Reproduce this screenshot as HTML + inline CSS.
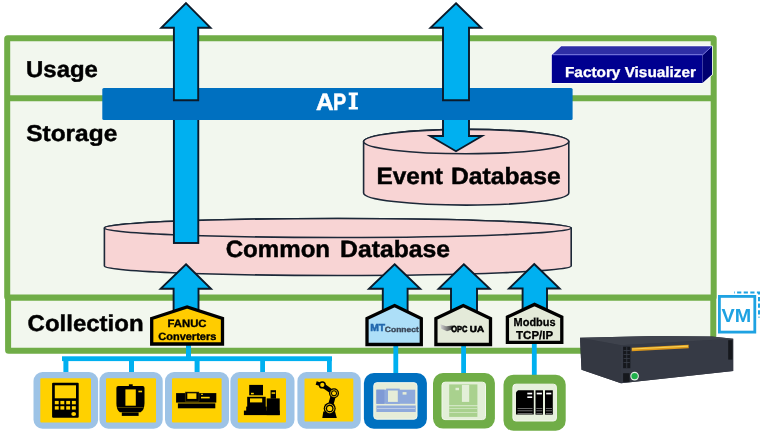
<!DOCTYPE html>
<html><head><meta charset="utf-8"><style>
html,body{margin:0;padding:0;background:#fff;width:763px;height:432px;overflow:hidden}
svg{display:block;font-family:"Liberation Sans",sans-serif;will-change:transform;text-rendering:geometricPrecision}
</style></head><body>
<svg width="763" height="432" viewBox="0 0 763 432">
<!-- main green frame -->
<rect x="8.1" y="297.4" width="705.2" height="53.4" rx="0.6" fill="#F2F7EE" stroke="#70AD47" stroke-width="6"/>
<rect x="7.2" y="38.2" width="706.5" height="259.2" rx="0.6" fill="#F2F7EE" stroke="#70AD47" stroke-width="6"/>
<line x1="7.2" y1="98.3" x2="713.7" y2="98.3" stroke="#70AD47" stroke-width="6"/>

<!-- Common DB -->
<g stroke="#1C2838" stroke-width="1.6" fill="#F8D4D4">
<path d="M104.4 228 L104.4 266 A233.4 9.5 0 0 0 571.2 266 L571.2 228 A233.4 9.5 0 0 0 104.4 228 Z"/>
<ellipse cx="337.8" cy="228" rx="233.4" ry="9.5"/>
</g>
<!-- Event DB -->
<g stroke="#1C2838" stroke-width="1.6" fill="#F8D4D4">
<path d="M363.6 141.6 L363.6 192.9 A102.6 12.2 0 0 0 568.8 192.9 L568.8 141.6 A102.6 12.2 0 0 0 363.6 141.6 Z"/>
<ellipse cx="466.2" cy="141.6" rx="102.6" ry="12.2"/>
</g>

<!-- lower shaft of arrow 1 -->
<rect x="173.9" y="112" width="24.4" height="131" fill="#00B0F0" stroke="#0B1A2A" stroke-width="1.9"/>

<!-- down arrow into event db -->
<polygon points="443,114 469,114 469,136 482,136 456,151.2 430,136 443,136" fill="#00B0F0" stroke="#0B1A2A" stroke-width="1.9"/>
<!-- API bar -->
<rect x="102.3" y="88" width="470.3" height="32" rx="1.5" fill="#0070C0"/>

<!-- top arrows -->
<g fill="#00B0F0" stroke="#0B1A2A" stroke-width="1.9" stroke-linejoin="miter">
<polygon points="186,3.2 210.5,27.8 198.2,27.8 198.2,100.3 173.9,100.3 173.9,27.8 161.3,27.8"/>
<polygon points="456,3.2 481.2,27.8 469,27.8 469,100.3 443,100.3 443,27.8 430.5,27.8"/>
</g>

<!-- bottom up arrows -->
<g fill="#00B0F0" stroke="#0B1A2A" stroke-width="1.9">
<polygon points="186,264.2 211,288.7 198.5,288.7 198.5,312 173.6,312 173.6,288.7 160.6,288.7"/>
<polygon points="394.6,264.2 420.2,288.7 407.6,288.7 407.6,312 382.8,312 382.8,288.7 369,288.7"/>
<polygon points="463.8,264.2 489.8,288.7 477,288.7 477,312 451,312 451,288.7 438.6,288.7"/>
<polygon points="534.2,264 559.6,288.5 547,288.5 547,312 522.6,312 522.6,288.5 509,288.5"/>
</g>

<!-- connectors -->
<g fill="#00B0F0">
<rect x="62" y="356.3" width="270" height="4.8"/>
<rect x="186" y="344" width="5" height="14"/>
<rect x="63.4" y="358" width="5" height="16"/>
<rect x="129" y="358" width="5" height="16"/>
<rect x="194.6" y="358" width="5" height="16"/>
<rect x="260.2" y="358" width="4.8" height="16"/>
<rect x="327" y="358" width="4.8" height="16"/>
<rect x="393.4" y="344" width="4.8" height="31"/>
<rect x="461.2" y="344" width="4.8" height="31"/>
<rect x="531.9" y="342" width="4.8" height="34"/>
</g>


<!-- device boxes -->
<g>
<rect x="33.5" y="372.1" width="64.6" height="56.6" rx="9" fill="#9DC3E6"/>
<rect x="40.3" y="378.3" width="50.7" height="44.2" rx="1" fill="#FFD100"/>
<rect x="99.4" y="372.1" width="63.3" height="56.6" rx="9" fill="#9DC3E6"/>
<rect x="106" y="378.3" width="50" height="44.2" rx="1" fill="#FFD100"/>
<rect x="165" y="372.1" width="64" height="56.6" rx="9" fill="#9DC3E6"/>
<rect x="172" y="378.3" width="49.6" height="44.2" rx="1" fill="#FFD100"/>
<rect x="230.4" y="372.1" width="64.1" height="56.6" rx="9" fill="#9DC3E6"/>
<rect x="237.8" y="378.3" width="48.2" height="44.2" rx="1" fill="#FFD100"/>
<rect x="297.4" y="372.1" width="63.4" height="56.6" rx="9" fill="#9DC3E6"/>
<rect x="304.5" y="378.6" width="48.8" height="43" rx="1" fill="#FFD100"/>
<rect x="363.9" y="373" width="63" height="55.7" rx="10" fill="#0070C0"/>
<rect x="373.8" y="382.7" width="43.2" height="36.5" rx="3" fill="#E6EDD8" stroke="#F4F8EE" stroke-width="1"/>
<rect x="433" y="373" width="61.9" height="55.6" rx="10" fill="#70AD47"/>
<rect x="442" y="382.2" width="43.5" height="37.4" rx="3" fill="#E3EFD8" stroke="#F2F8EC" stroke-width="1"/>
<rect x="503.5" y="374.7" width="62.2" height="56" rx="10" fill="#70AD47"/>
<rect x="512.9" y="384.2" width="43.5" height="36.8" rx="3" fill="#E6F0DC" stroke="#F4F8EE" stroke-width="1"/>
</g>
<!-- icon 1 pendant -->
<g>
<rect x="52.1" y="382.7" width="26.6" height="35" rx="1" fill="#000"/>
<rect x="54.8" y="385.3" width="21.2" height="13" fill="#FFD100"/>
<g fill="#FFD100">
<rect x="54.8" y="400.9" width="3.9" height="3.4"/><rect x="60.4" y="400.9" width="3.9" height="3.4"/><rect x="66.2" y="400.9" width="3.9" height="3.4"/><rect x="71.9" y="400.9" width="3.9" height="3.4"/>
<rect x="54.8" y="406.2" width="3.9" height="3.4"/><rect x="60.4" y="406.2" width="3.9" height="3.4"/><rect x="66.2" y="406.2" width="3.9" height="3.4"/><rect x="71.9" y="406.2" width="3.9" height="3.4"/>
<ellipse cx="73.7" cy="414" rx="2.4" ry="1.9"/>
</g>
</g>
<!-- icon 2 machining center -->
<g>
<rect x="128.9" y="384.3" width="3.8" height="2.4" fill="#000"/>
<path d="M116.4 388 Q116.4 386.1 118.3 386.1 L142.6 386.1 Q144.5 386.1 144.5 388 L144.5 403 Q144.5 410 140.6 412.2 L119.8 412.2 Q116.4 410 116.4 403 Z" fill="#000"/>
<rect x="121.8" y="412.4" width="16.8" height="3.5" fill="#000"/>
<rect x="125.4" y="389.4" width="10.4" height="16.3" fill="#FFD100"/>
<rect x="138.4" y="390.7" width="3.7" height="1.6" fill="#FFD100"/>
<rect x="117.5" y="407.2" width="26" height="0.7" fill="#6b5a00"/>
</g>
<!-- icon 3 lathe -->
<g>
<rect x="176.1" y="393.1" width="40.2" height="9.5" fill="#000"/>
<rect x="177.9" y="403.4" width="37.4" height="4.9" fill="#000"/>
<rect x="185.2" y="392" width="13.8" height="9.2" fill="#000" stroke="#6b5a00" stroke-width="0.5"/>
<rect x="187.3" y="393.3" width="9.1" height="5.6" fill="#FFD100"/>
<rect x="201" y="393.8" width="2" height="1" fill="#FFD100"/>
<rect x="201" y="396.8" width="8.7" height="1.6" fill="#FFD100"/>
</g>
<!-- icon 4 -->
<g fill="#000">
<rect x="249.2" y="384.9" width="13.8" height="10.4"/>
<rect x="247.2" y="396.8" width="18.5" height="10.7"/>
<rect x="246.2" y="406.6" width="20.5" height="4.5"/>
<rect x="243.9" y="410.6" width="35.8" height="4.5"/>
<rect x="266.7" y="398.4" width="13" height="16.7"/>
<rect x="270.6" y="390.2" width="5.4" height="8.5"/>
<g fill="#FFD100">
<rect x="251" y="392.8" width="2.8" height="1.5"/>
<rect x="250" y="398.4" width="12.2" height="4"/>
<rect x="271.6" y="392.3" width="3.6" height="1.5"/>
</g>
</g>
<!-- icon 5 robot -->
<g>
<polygon points="323.3,411.6 335,411.6 336.8,417.9 322.3,417.9" fill="#000"/>
<line x1="329.7" y1="408.5" x2="334" y2="393.3" stroke="#000" stroke-width="5.2"/>
<line x1="334" y1="393.3" x2="322.3" y2="384.9" stroke="#000" stroke-width="4.4"/>
<line x1="322.3" y1="384.9" x2="316.2" y2="383" stroke="#000" stroke-width="3.6"/>
<circle cx="329.7" cy="408.5" r="6" fill="#000"/>
<circle cx="329.7" cy="408.5" r="4.3" fill="none" stroke="#FFD100" stroke-width="0.9"/>
<circle cx="329.7" cy="408.5" r="2.6" fill="#FFD100"/>
<circle cx="334" cy="393.3" r="5" fill="#000"/>
<circle cx="334" cy="393.3" r="3.5" fill="none" stroke="#FFD100" stroke-width="0.8"/>
<circle cx="334" cy="393.3" r="2" fill="#FFD100"/>
<circle cx="322.3" cy="384.9" r="3.6" fill="#000"/>
<circle cx="322.3" cy="384.9" r="2.1" fill="#FFD100"/>
</g>
<!-- icon 6 MT machine -->
<g fill="#8FAADC">
<rect x="376.4" y="389.7" width="38.8" height="14.1"/>
<rect x="376.4" y="389.7" width="8" height="14.1" fill="#7F9AD5"/>
<rect x="386.1" y="388.6" width="13.6" height="15.2"/>
<rect x="388" y="390.5" width="9.8" height="11.4" fill="#E6EDD8"/>
<rect x="402.6" y="392.1" width="3.9" height="2.5" fill="#E6EDD8"/>
<rect x="376.4" y="405.5" width="39.3" height="6.5"/>
<rect x="377" y="408" width="38" height="0.8" fill="#C9D5EC"/>
</g>
<!-- icon 7 OPC machine -->
<g fill="#A9D18E">
<rect x="449.2" y="384.4" width="28.2" height="20.9"/>
<rect x="461.9" y="384.9" width="7.3" height="17" fill="#E3EFD8"/>
<rect x="455.5" y="387.8" width="3.5" height="2.4" fill="#E3EFD8"/>
<rect x="449.2" y="406.2" width="28.2" height="10.7"/>
<rect x="449.2" y="408.2" width="28.2" height="0.8" fill="#D3E8C5"/>
<rect x="449.2" y="412.1" width="28.2" height="0.8" fill="#D3E8C5"/>
</g>
<!-- icon 8 servers -->
<g>
<path d="M518 390.3 L533.8 390.3 L533.8 414.6 L516 414.6 L516 392.3 Z" fill="#000"/>
<rect x="535.5" y="390.3" width="7.5" height="24.3" fill="#000"/>
<rect x="545" y="390.3" width="7.8" height="24.3" fill="#000"/>
<g fill="#fff">
<rect x="527.3" y="392.7" width="4.9" height="1.7"/>
<rect x="527.3" y="396.4" width="4.9" height="1.6"/>
<rect x="536.7" y="392.7" width="5.2" height="1.7"/>
<rect x="546.2" y="392.7" width="5.1" height="1.7"/>
</g>
<g fill="#999">
<rect x="517.5" y="408" width="15" height="0.7"/><rect x="517.5" y="410.5" width="15" height="0.7"/><rect x="517.5" y="413" width="15" height="0.7"/>
<rect x="536.3" y="408" width="6" height="0.7"/><rect x="536.3" y="410.5" width="6" height="0.7"/><rect x="536.3" y="413" width="6" height="0.7"/>
<rect x="545.8" y="408" width="6.2" height="0.7"/><rect x="545.8" y="410.5" width="6.2" height="0.7"/><rect x="545.8" y="413" width="6.2" height="0.7"/>
</g>
</g>

<!-- pentagons -->
<g stroke="#000" stroke-width="3.3" stroke-linejoin="miter">
<polygon points="151.7,318.5 187.1,307 222.5,318.5 222.5,344 151.7,344" fill="#FFCC00"/>
<polygon points="367,318.5 394.6,305.6 421.3,318.5 421.3,344.5 367,344.5" fill="#ADDFF8"/>
<polygon points="435.9,318.5 463.3,305.6 490.5,318.5 490.5,344.5 435.9,344.5" fill="#E4EAD9"/>
<polygon points="507.4,317 534.5,304.4 561.8,317 561.8,342.3 507.4,342.3" fill="#E4EAD9"/>
</g>

<!-- labels -->
<g font-weight="bold" fill="#000" font-size="22.8" stroke="#000" stroke-width="0.45" transform="matrix(1 0 0 1.0001 0 0.45)">
<text x="26.1" y="76.4" textLength="71.8" lengthAdjust="spacingAndGlyphs">Usage</text>
<text x="26.2" y="140.25" textLength="91.1" lengthAdjust="spacingAndGlyphs">Storage</text>
<text x="27.6" y="330.3" textLength="116" lengthAdjust="spacingAndGlyphs">Collection</text>
</g>
<g font-size="23.5" font-weight="bold" fill="#fff" stroke="#fff" stroke-width="0.5"><text x="315.9" y="109.6" textLength="17.7" lengthAdjust="spacingAndGlyphs">A</text><text x="333.1" y="109.6" textLength="13.2" lengthAdjust="spacingAndGlyphs">P</text></g>
<path d="M348.7 92.6 H357.9 V95.3 H355.3 V106.9 H357.9 V109.6 H348.7 V106.9 H351.3 V95.3 H348.7 Z" fill="#fff"/>
<g font-size="23.5" font-weight="bold" fill="#000" stroke="#000" stroke-width="0.45"><text x="376.5" y="184" textLength="66.5" lengthAdjust="spacingAndGlyphs">Event</text><text x="450.9" y="184" textLength="109.8" lengthAdjust="spacingAndGlyphs">Database</text>
<text x="225.7" y="256.6" textLength="104.4" lengthAdjust="spacingAndGlyphs">Common</text><text x="340.1" y="256.6" textLength="109.9" lengthAdjust="spacingAndGlyphs">Database</text></g>

<!-- Factory Visualizer -->
<polygon points="551.8,55 561.2,46.3 712,46.3 712,74.5 702.5,83 551.8,83" fill="#fff" stroke="#fff" stroke-width="1.6" stroke-linejoin="round"/>
<polygon points="551.8,55 561.2,46.3 712,46.3 702.5,55" fill="#2E2EA6"/>
<polygon points="702.5,55 712,46.3 712,74.5 702.5,83" fill="#000070"/>
<rect x="551.8" y="55" width="150.7" height="28" fill="#00008F"/>
<line x1="552.6" y1="54.7" x2="702.5" y2="54.7" stroke="#6E6ED8" stroke-width="1.3"/>
<line x1="702.5" y1="55" x2="711.6" y2="46.6" stroke="#6E6ED8" stroke-width="1"/>
<text x="565" y="77" font-size="14.5" font-weight="bold" fill="#fff" stroke="#fff" stroke-width="0.3" textLength="131" lengthAdjust="spacingAndGlyphs">Factory Visualizer</text>


<!-- MTConnect logo -->
<text x="370.2" y="330.8" font-size="10.2" font-weight="bold" fill="#2268AE" stroke="#2268AE" stroke-width="0.5" textLength="15" lengthAdjust="spacingAndGlyphs">MT</text>
<text x="384.8" y="331.8" font-size="7.6" font-weight="bold" fill="#3B4859" stroke="#3B4859" stroke-width="0.35" textLength="34" lengthAdjust="spacingAndGlyphs">Connect</text>
<!-- OPC UA logo -->
<defs><linearGradient id="og" x1="0" x2="1" y1="0" y2="0"><stop offset="0" stop-color="#d8d8d8"/><stop offset="1" stop-color="#303030"/></linearGradient></defs>
<path d="M440.3 324.3 L446 326.2 L452.8 325.6 L452 329.5 L447 331.3 L441.2 328.8 Z" fill="url(#og)"/>
<text x="451.3" y="332" font-size="8.8" font-weight="bold" fill="#000" stroke="#000" stroke-width="0.6" textLength="16.2" lengthAdjust="spacingAndGlyphs">OPC</text>
<text x="469.8" y="332" font-size="8.8" font-weight="bold" fill="#000" stroke="#000" stroke-width="0.6" textLength="14.2" lengthAdjust="spacingAndGlyphs">UA</text>

<!-- VM icon -->
<g fill="none" stroke="#1EA2E2">
<path d="M734 292.5 L759 292.5 L759 317.5" stroke-width="2" stroke-dasharray="4.2 2.4" stroke-dashoffset="3.5"/>
<rect x="719.4" y="296.4" width="35.4" height="35.7" stroke-width="2.8" fill="#fff"/>
</g>
<text x="721.6" y="321.7" font-size="19" font-weight="bold" fill="#1EA2E2" textLength="29.6" lengthAdjust="spacingAndGlyphs">VM</text>

<!-- hardware box -->
<g>
<polygon points="580,337.8 655,335.9 712,336.6 733.2,338.8 733.2,371 621,383.3 581.5,369.7" fill="#363A45"/>
<polygon points="580,337.8 655,335.9 712,336.6 733.2,338.8 621,345.2" fill="#3F434D"/>
<polygon points="580,337.8 621,345.2 621,383.3 581.5,369.7" fill="#343842"/>
<polygon points="621,345.2 733.2,338.8 733.2,371 621,383.3" fill="#363A45"/>
<polygon points="631.7,347.8 688.7,344.8 688.7,348.3 631.7,351.3" fill="#E09A1A"/>
<polygon points="632,348.6 688,345.6 688,346.8 632,349.6" fill="#F5CF55"/>
<g fill="#16181d">
<rect x="623.1" y="346.7" width="7.2" height="21.5"/>
<rect x="623.1" y="373.2" width="6.5" height="8.7"/>
<rect x="728.2" y="340.2" width="4.3" height="19.4"/>
</g>
<g fill="#3a3f4a">
<rect x="623.6" y="350" width="6.2" height="0.8"/><rect x="623.6" y="354" width="6.2" height="0.8"/><rect x="623.6" y="358" width="6.2" height="0.8"/><rect x="623.6" y="362" width="6.2" height="0.8"/>
<rect x="626.4" y="347" width="0.8" height="21"/>
</g>
<circle cx="634.6" cy="376.1" r="4.3" fill="#e8f0e8"/>
<circle cx="634.6" cy="376.1" r="3.2" fill="#1FB04A"/>
</g>

<!-- pentagon texts -->
<g font-weight="bold" fill="#000" text-anchor="middle">
<text x="187" y="327" font-size="10.5" stroke="#000" stroke-width="0.35" textLength="39" lengthAdjust="spacingAndGlyphs">FANUC</text>
<text x="187.3" y="340.3" font-size="10.5" stroke="#000" stroke-width="0.35" textLength="58" lengthAdjust="spacingAndGlyphs">Converters</text>
<text x="534.6" y="326.4" font-size="11.5" stroke="#000" stroke-width="0.3" textLength="42" lengthAdjust="spacingAndGlyphs">Modbus</text>
<text x="534.6" y="338.7" font-size="11.5" stroke="#000" stroke-width="0.3">TCP/IP</text>
</g>
</svg>
</body></html>
